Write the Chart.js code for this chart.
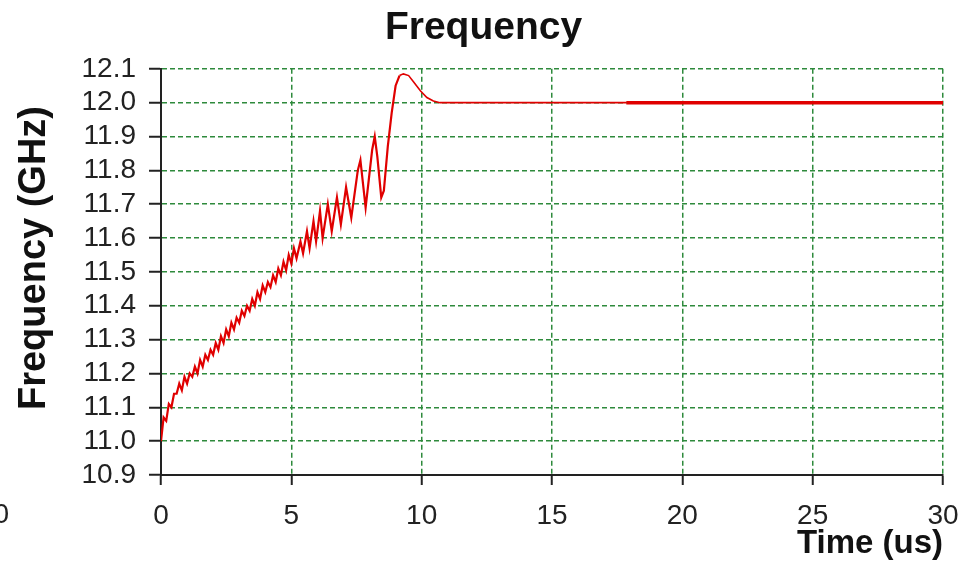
<!DOCTYPE html>
<html>
<head>
<meta charset="utf-8">
<script src="https://cdn.jsdelivr.net/npm/chart.js@4.4.1/dist/chart.umd.min.js"></script>
<style>
  html, body { margin: 0; padding: 0; background: #fff; }
  #wrap { width: 972px; height: 576px; }
</style>
</head>
<body>
<div id="wrap"><canvas id="chart-freq" width="972" height="576"></canvas></div>
<script>
// Data
const timeUs = [
    0, 0.1, 0.2, 0.3, 0.4, 0.5, 0.6, 0.7, 0.8, 0.9,
    1.0, 1.1, 1.2, 1.3, 1.4, 1.5, 1.6, 1.7, 1.8, 1.9,
    2.0, 2.1, 2.2, 2.3, 2.4, 2.5, 2.6, 2.7, 2.8, 2.9,
    3.0, 3.1, 3.2, 3.3, 3.4, 3.5, 3.6, 3.7, 3.8, 3.9,
    4.0, 4.1, 4.2, 4.3, 4.4, 4.5, 4.6, 4.7, 4.8, 4.9,
    5.0, 5.1, 5.2, 5.35, 5.45, 5.6, 5.7, 5.85, 5.95, 6.1,
    6.2, 6.4, 6.55, 6.75, 6.9, 7.1, 7.3, 7.55, 7.65, 7.85,
    8.1, 8.2, 8.3, 8.45, 8.55, 8.7, 8.85, 9.0, 9.15, 9.3,
    9.5, 9.7, 9.95, 10.2, 10.45, 10.7, 17.85, 30
];
const freqGHz = [
    11.00, 11.07, 11.06, 11.11, 11.10, 11.14, 11.14, 11.17, 11.15, 11.19,
    11.17, 11.20, 11.19, 11.22, 11.20, 11.24, 11.22, 11.255, 11.24, 11.27,
    11.255, 11.29, 11.27, 11.31, 11.29, 11.33, 11.31, 11.35, 11.33, 11.365,
    11.35, 11.385, 11.37, 11.40, 11.385, 11.42, 11.40, 11.44, 11.42, 11.46,
    11.44, 11.47, 11.455, 11.49, 11.47, 11.51, 11.49, 11.53, 11.505, 11.55,
    11.525, 11.57, 11.54, 11.59, 11.555, 11.62, 11.57, 11.65, 11.59, 11.68,
    11.60, 11.70, 11.62, 11.72, 11.64, 11.75, 11.66, 11.80, 11.83, 11.69,
    11.86, 11.90, 11.84, 11.72, 11.74, 11.87, 11.97, 12.05, 12.08, 12.085,
    12.08, 12.06, 12.035, 12.015, 12.005, 12.00, 12.00, 12.00
];
const xTicks = [0, 5, 10, 15, 20, 25, 30];
const yTicks = [10.9, 11.0, 11.1, 11.2, 11.3, 11.4, 11.5, 11.6, 11.7, 11.8, 11.9, 12.0, 12.1];
// the trace is drawn heavier from here on
const thickFromUs = 17.85;

const FONT = 'Liberation Sans, Arial, sans-serif';
const GRID_GREEN = '#2e8a3c';

// y title (drawn by hand so it can sit a little above centre) and
// the cut-off label from the neighbouring chart at the left edge
const extraText = {
    id: 'extraText',
    afterDraw(chart) {
        const ctx = chart.ctx;
        ctx.save();
        ctx.font = `28px ${FONT}`;
        ctx.fillStyle = '#222';
        ctx.textAlign = 'right';
        ctx.textBaseline = 'middle';
        ctx.fillText('30', 9, 515);

        ctx.translate(35, 258);
        ctx.rotate(-Math.PI / 2);
        ctx.font = `bold 38px ${FONT}`;
        ctx.fillStyle = '#111';
        ctx.textAlign = 'center';
        ctx.fillText('Frequency (GHz)', 0, 0);
        ctx.restore();
    }
};

new Chart(document.getElementById('chart-freq').getContext('2d'), {
    type: 'line',
    data: {
        datasets: [{
            data: timeUs.map((t, i) => ({ x: t, y: freqGHz[i] })),
            borderColor: '#e00000',
            borderWidth: 2.2,
            segment: {
                borderWidth: ctx => ctx.p0.parsed.x >= thickFromUs ? 3.5 : (ctx.p0.parsed.x > 9 ? 1.6 : 2.2)
            },
            pointRadius: 0,
            tension: 0,
            fill: false
        }]
    },
    options: {
        responsive: false,
        animation: false,
        layout: { padding: { left: 0, right: 5, top: 0, bottom: 0 } },
        plugins: {
            legend: { display: false },
            tooltip: { enabled: false },
            title: {
                display: true,
                text: 'Frequency',
                color: '#111',
                font: { family: FONT, size: 39, weight: 'bold', lineHeight: 1.2 },
                padding: { top: 5, bottom: 17 }
            }
        },
        scales: {
            x: {
                type: 'linear',
                min: 0, max: 30,
                afterBuildTicks: s => { s.ticks = xTicks.map(v => ({ value: v })); },
                afterFit: s => { s.height = 101; s.paddingRight = 29; },
                border: { color: '#222', width: 2, dash: [5, 3] },
                grid: {
                    color: GRID_GREEN, lineWidth: 1.5,
                    tickLength: 10, tickColor: '#222', tickBorderDash: [], tickWidth: 2
                },
                ticks: {
                    color: '#222', padding: 14, autoSkip: false,
                    font: { family: FONT, size: 28 },
                    maxRotation: 0
                },
                title: {
                    display: true, text: 'Time (us)', align: 'end', color: '#111',
                    font: { family: FONT, size: 33, weight: 'bold', lineHeight: 1.2 },
                    padding: { top: 0, bottom: 12 }
                }
            },
            y: {
                type: 'linear',
                min: 10.9, max: 12.1,
                afterBuildTicks: s => { s.ticks = yTicks.map(v => ({ value: v })); },
                afterFit: s => { s.width = 161; },
                border: { color: '#222', width: 2, dash: [5, 3] },
                grid: {
                    color: GRID_GREEN, lineWidth: 1.5,
                    tickLength: 12, tickColor: '#222', tickBorderDash: [], tickWidth: 2
                },
                ticks: {
                    color: '#222', padding: 13, autoSkip: false,
                    font: { family: FONT, size: 28 },
                    callback: v => v.toFixed(1)
                },
                title: { display: false }
            }
        }
    },
    plugins: [extraText]
});
</script>
</body>
</html>
